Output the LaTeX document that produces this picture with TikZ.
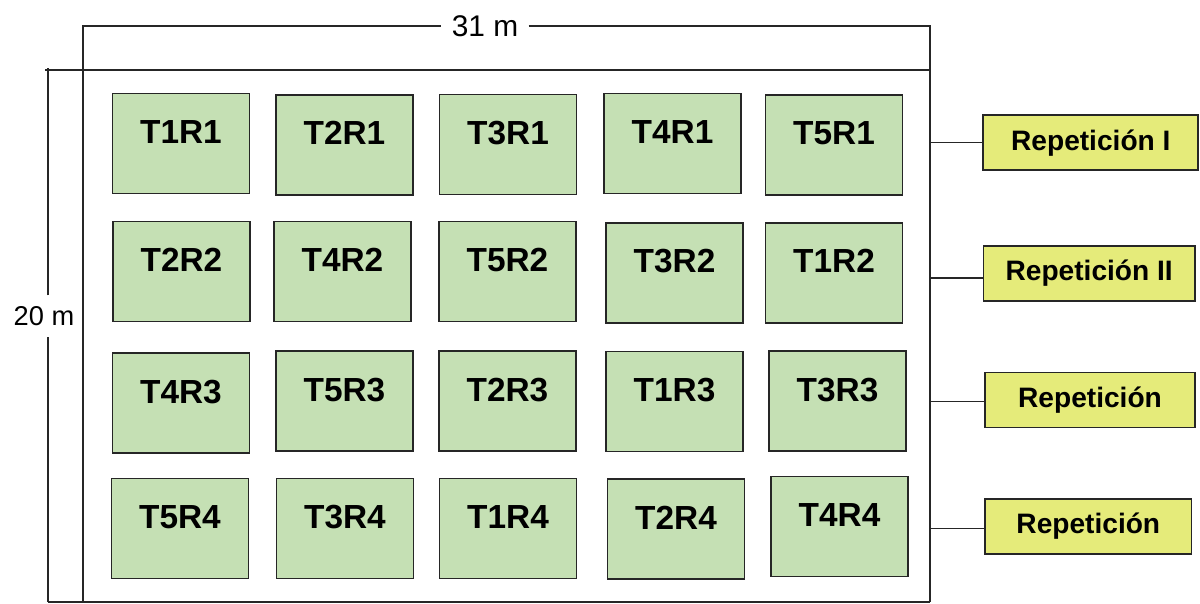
\documentclass[tikz,border=0pt]{standalone}
\usepackage{fontspec}
\setmainfont{Liberation Sans}
\definecolor{verdeparcela}{RGB}{197,224,180}
\definecolor{amarillorep}{RGB}{229,235,122}
\tikzset{parcela/.style={draw=black!85, line width=1pt, fill=verdeparcela,
minimum width=2.74cm, inner sep=0pt, text height=1cm, text depth=1cm,
font=\fontsize{19}{22}\selectfont\bfseries},
rep/.style={draw=black!85, line width=1pt, fill=amarillorep,
minimum height=1.1cm, inner sep=0pt, font=\fontsize{16}{19}\selectfont\bfseries},
linea/.style={line width=0.9pt, black!85},
cota/.style={font=\fontsize{15.5}{18}\selectfont, inner sep=0pt}}

\begin{document}
\begin{tikzpicture}[x=0.02cm, y=-0.02cm]
				\useasboundingbox (0,0) rectangle (1200,604);
				\coordinate (no) at (83,70);
				\coordinate (ne) at (930,70);
				\coordinate (so) at (83,602);
				\coordinate (se) at (930,602);
				\coordinate (ci) at (48,602);
				\node[cota, font=\fontsize{17}{20}\selectfont, inner xsep=0.2cm] (largo) at (485,26) {31 m};
				\node[cota, inner ysep=6pt] (ancho) at (44,316) {20 m};
				\draw[linea] (45,70) -- (ne);
				\draw[linea] (no) -- (so);
				\draw[linea] (no) |- (largo.west);
				\draw[linea] (largo.east) -| (se);
				\draw[linea] (ci) -- (ci |- ancho.south);
				\draw[linea] (ci |- ancho.north) -- (48,68);
				\draw[linea] (ci) -- (se);
				\node[parcela] (t1r1) at (181,143.5) {T1R1};
				\node[parcela] (t2r1) at (344.5,145) {T2R1};
				\node[parcela] (t3r1) at (508,144.5) {T3R1};
				\node[parcela] (t4r1) at (672.5,143.5) {T4R1};
				\node[parcela] (t5r1) at (834,145) {T5R1};
				\node[parcela] (t2r2) at (181.5,271.5) {T2R2};
				\node[parcela] (t4r2) at (342.5,271.5) {T4R2};
				\node[parcela] (t5r2) at (507.5,271.5) {T5R2};
				\node[parcela] (t3r2) at (674.5,273) {T3R2};
				\node[parcela] (t1r2) at (834,273) {T1R2};
				\node[parcela] (t4r3) at (181,403) {T4R3};
				\node[parcela] (t5r3) at (344.5,401) {T5R3};
				\node[parcela] (t2r3) at (507.5,401) {T2R3};
				\node[parcela] (t1r3) at (674.5,401.5) {T1R3};
				\node[parcela] (t3r3) at (837.5,401) {T3R3};
				\node[parcela] (t5r4) at (180,528.5) {T5R4};
				\node[parcela] (t3r4) at (345,528.5) {T3R4};
				\node[parcela] (t1r4) at (508,528.5) {T1R4};
				\node[parcela] (t2r4) at (676,529) {T2R4};
				\node[parcela] (t4r4) at (839.5,526.5) {T4R4};
				\node[rep, minimum width=4.3cm] (rep1) at (1090.8,142.8) {Repetición I};
				\node[rep, minimum width=4.23cm] (rep2) at (1089.2,273.4) {Repetición II};
				\node[rep, minimum width=4.2cm] (rep3) at (1090,400) {Repetición};
				\node[rep, minimum width=4.13cm] (rep4) at (1088.3,526.2) {Repetición};
				\coordinate (b1) at (930,142.7);
				\coordinate (b2) at (930,278);
				\coordinate (b3) at (930,401.7);
				\coordinate (b4) at (930,528.3);
				\draw[linea] (b1) -- (b1 -| rep1.west);
				\draw[linea] (b2) -- (b2 -| rep2.west);
				\draw[linea] (b3) -- (b3 -| rep3.west);
				\draw[linea] (b4) -- (b4 -| rep4.west);
			\end{tikzpicture}
\end{document}
